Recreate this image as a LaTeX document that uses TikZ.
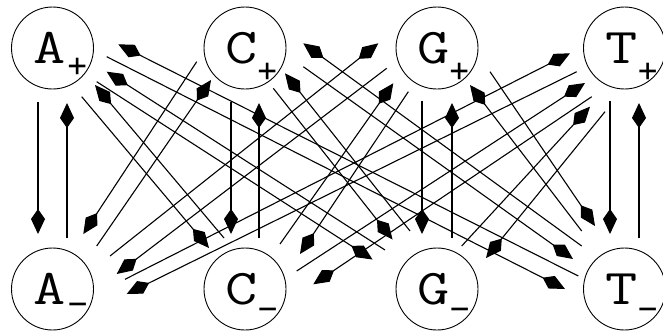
\documentclass[tikz,border=0pt]{standalone}
\usepackage{fontspec}
\usepackage{graphicx}
\newfontfamily\signfont{DejaVu Sans Mono}
\usetikzlibrary{arrows.meta,calc}

\tikzset{
  state/.style={circle, draw, line width=0.9pt, minimum size=82pt, inner sep=0pt},
  link/.style={line width=1.1pt, -{Kite[length=25pt,width=14pt,inset=10pt]}},
}

% state label: typewriter letter, sign placed at (#3,#4) from the centre (y downwards)
\newcommand\statelab[4]{\kern-6pt\scalebox{1.25}[1]{\fontsize{50}{50}\selectfont\ttfamily #1}%
  \rlap{\smash{\hspace{\dimexpr #3pt-23pt\relax}\raisebox{\dimexpr 4.1pt-#4pt\relax}{\fontsize{32}{32}\signfont #2}}}}

% one transition: start offset from one state, end offset at the other
\newcommand\trans[4]{\draw[link] ($(#1)+(#2)$) -- ($(#3)+(#4)$);}

\begin{document}
\begin{tikzpicture}[x=1pt,y=-1pt]
\useasboundingbox (0,0) rectangle (663,332);

\node[state] (Ap) at (52.5,48)  {\statelab{A}{+}{25}{17}};
\node[state] (Cp) at (245,48)   {\statelab{C}{+}{22.5}{22.8}};
\node[state] (Gp) at (437,48)   {\statelab{G}{+}{22.5}{22.8}};
\node[state] (Tp) at (624.5,48) {\statelab{T}{+}{23.5}{22.8}};
\node[state] (Am) at (52.5,289) {\statelab{A}{−}{25.5}{14}};
\node[state] (Cm) at (245,289)  {\statelab{C}{−}{23}{19.7}};
\node[state] (Gm) at (437,289)  {\statelab{G}{−}{23}{19.7}};
\node[state] (Tm) at (624.5,289){\statelab{T}{−}{23.5}{19.3}};

% from A+
\trans{Ap}{-14.5,54}{Am}{-14.5,-55}
\trans{Am}{14.5,-51}{Ap}{14.5,55}
\trans{Ap}{29.2,48.7}{Cm}{-36,-41}
\trans{Cm}{-21,-51}{Ap}{42.5,37}
\trans{Ap}{44.2,33.7}{Gm}{-64.5,-29.5}
\trans{Gm}{-52,-39}{Ap}{54.2,23.7}
\trans{Ap}{54.2,8.7}{Tm}{-59.5,0}
\trans{Tm}{-46.2,-13}{Ap}{65.8,-3.7}

% from C+
\trans{Cp}{-48.3,13.7}{Am}{30.8,-55}
\trans{Am}{44.2,-43}{Cp}{-34,32}
\trans{Cp}{-14,54}{Cm}{-14,-55}
\trans{Cm}{14,-51}{Cp}{14,55}
\trans{Cp}{28.3,40.3}{Gm}{-44.5,-49.5}
\trans{Gm}{-27,-58}{Cp}{40,25.3}
\trans{Cp}{58.3,18.7}{Tm}{-51.5,-30}
\trans{Tm}{-42.8,-43}{Cp}{58.3,-4.7}

% from G+
\trans{Gp}{-50.3,20.3}{Am}{64.2,-15}
\trans{Am}{57.5,-33}{Gp}{-58.7,-4.7}
\trans{Gp}{-28.7,43.7}{Cm}{55,-35}
\trans{Cm}{35,-45}{Gp}{-43.7,35.3}
\trans{Gp}{-15,53}{Gm}{-15,-55}
\trans{Gm}{15,-51}{Gp}{15,55}
\trans{Gp}{53,23.7}{Tm}{-29.5,-63}
\trans{Tm}{-42.8,-58}{Gp}{33,37}

% from T+
\trans{Tp}{-47.8,23.7}{Am}{74.2,5}
\trans{Am}{72.5,-9.7}{Tp}{-54.5,5.3}
\trans{Tp}{-32.8,48.7}{Cm}{68.3,-4.7}
\trans{Cm}{51.7,-18}{Tp}{-39.5,35}
\trans{Tp}{-19.5,63.7}{Gm}{49,-31}
\trans{Gm}{24.7,-43}{Tp}{-34.5,58.7}
\trans{Tp}{-14.5,53}{Tm}{-14.5,-55}
\trans{Tm}{14.5,-51}{Tp}{14.5,55}
\end{tikzpicture}
\end{document}
